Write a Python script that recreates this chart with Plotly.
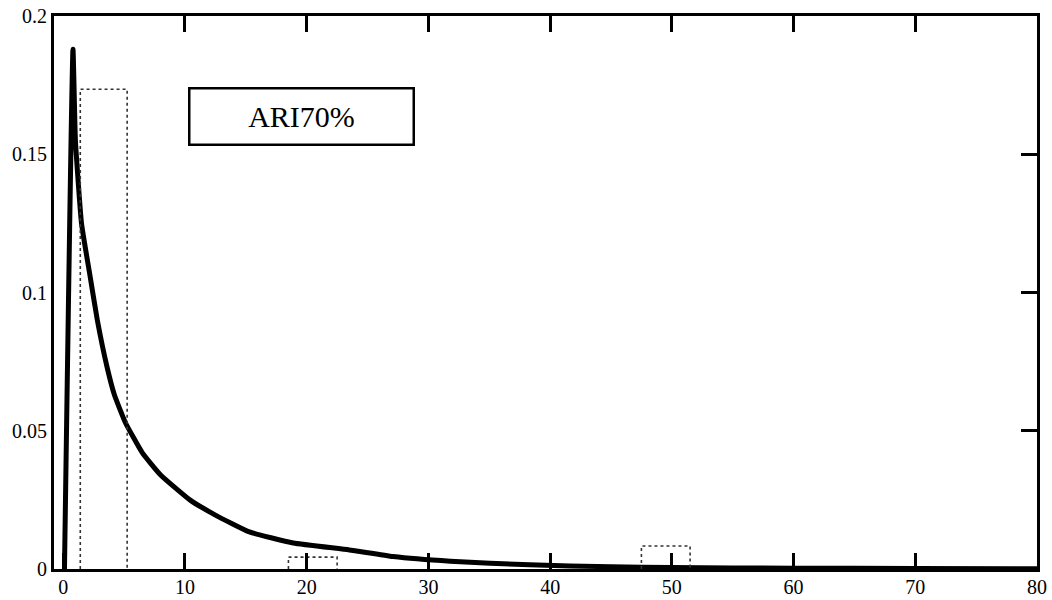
import plotly.graph_objects as go

# Fitted density curve
curve_x = [0.1, 0.8, 1.0, 1.5, 2.2, 2.8, 3.6, 4.2, 5.1, 6.5, 8.0, 10.4, 12.5,
           15.3, 18.9, 23.5, 27.1, 31.8, 38.3, 45, 50, 60, 70, 80]
curve_y = [0.0, 0.188, 0.155, 0.125, 0.106, 0.090, 0.073, 0.063, 0.053, 0.042,
           0.034, 0.025, 0.0195, 0.0134, 0.0094, 0.0069, 0.0045, 0.0028, 0.0015,
           0.0008, 0.0005, 0.0003, 0.0002, 0.0001]

# Histogram bins (dotted outlines)
bin_left = [1.4, 18.5, 47.5]
bin_right = [5.25, 22.5, 51.5]
bin_height = [0.1735, 0.0043, 0.0083]

x_ticks = [0, 10, 20, 30, 40, 50, 60, 70, 80]
y_ticks = [0, 0.05, 0.1, 0.15, 0.2]
y_tick_text = ["0", "0.05", "0.1", "0.15", "0.2"]
label_text = "ARI70%"

X_RANGE = [-0.76, 80]
Y_RANGE = [0, 0.2]

fig = go.Figure()

# bar outlines built from the bin arrays
bx, by = [], []
for l, r, h in zip(bin_left, bin_right, bin_height):
    bx += [l, l, r, r, None]
    by += [0, h, h, 0, None]
fig.add_trace(go.Scatter(x=bx, y=by, mode="lines", xaxis="x2", yaxis="y2",
                         line=dict(color="#333333", width=1.6, dash="dot"),
                         showlegend=False, hoverinfo="skip"))

fig.add_trace(go.Scatter(x=curve_x, y=curve_y, mode="lines",
                         line=dict(color="black", width=5, shape="spline", smoothing=0.4),
                         showlegend=False))

font = dict(family="Liberation Serif, Times New Roman, serif", size=20, color="black")

fig.update_layout(
    width=1052, height=600,
    margin=dict(l=54, r=15, t=16, b=31, autoexpand=False),
    paper_bgcolor="white", plot_bgcolor="white",
    font=font,
    xaxis=dict(range=X_RANGE, showgrid=False, zeroline=False, automargin=False,
               showline=True, linecolor="black", linewidth=3,
               ticks="inside", ticklen=16, tickwidth=2.5, tickcolor="black",
               tickvals=x_ticks, ticktext=[str(v) for v in x_ticks],
               ticklabelstandoff=-2, tickfont=font),
    yaxis=dict(range=Y_RANGE, showgrid=False, zeroline=False, automargin=False,
               showline=True, linecolor="black", linewidth=3,
               ticks="", tickvals=y_ticks, ticktext=y_tick_text,
               tickfont=font),
    xaxis2=dict(range=X_RANGE, overlaying="x", side="top", anchor="y",
                showgrid=False, zeroline=False, automargin=False,
                showline=True, linecolor="black", linewidth=3,
                ticks="inside", ticklen=16, tickwidth=2.5, tickcolor="black",
                tickvals=x_ticks[1:-1], showticklabels=False),
    yaxis2=dict(range=Y_RANGE, overlaying="y", side="right", anchor="x",
                showgrid=False, zeroline=False, automargin=False,
                showline=True, linecolor="black", linewidth=3,
                ticks="inside", ticklen=16, tickwidth=2.5, tickcolor="black",
                tickvals=y_ticks[1:-1], showticklabels=False),
    annotations=[dict(x=19.6, y=0.1635, xref="x", yref="y", text=label_text,
                      showarrow=False, width=222, height=54,
                      bordercolor="black", borderwidth=2.5, borderpad=0,
                      bgcolor="white",
                      font=dict(family="Liberation Serif, Times New Roman, serif",
                                size=30, color="black"))],
)

fig.write_html("out.html", config={"displayModeBar": False},
               post_script="document.body.style.margin='0';document.body.style.overflow='hidden';")
